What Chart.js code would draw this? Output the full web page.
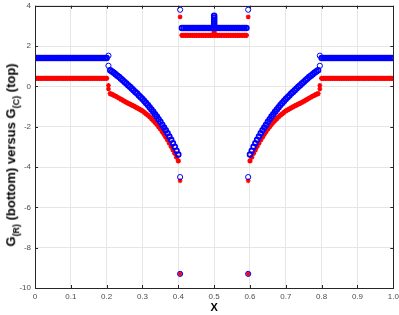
<!DOCTYPE html>
<html lang="en">
<head>
  <meta charset="UTF-8">
  <title>G(R) versus G(C)</title>
  <script src="https://cdn.jsdelivr.net/npm/chart.js"></script>
  <style>
    body { margin: 0; background: #ffffff; }
    #wrap { position: relative; width: 399px; height: 315px; }
    #ylabel {
      position: absolute;
      left: 12px; top: 155px;
      transform: translate(-50%, -50%) rotate(-90deg);
      white-space: nowrap;
      font: bold 13px "Liberation Sans", Arial, sans-serif;
      color: #000;
    }
    #ylabel sub { font-size: 9px; }
  </style>
</head>
<body>
  <div id="wrap">
    <canvas id="graph"></canvas>
    <div id="ylabel">G<sub>(R)</sub> (bottom) versus G<sub>(C)</sub> (top)</div>
  </div>

  <script>
    // x positions of each piece
    const xFlatL  = [0,0.005,0.01,0.015,0.02,0.025,0.03,0.035,0.04,0.045,0.05,0.055,0.06,0.065,0.07,0.075,0.08,0.085,0.09,0.095,
                     0.1,0.105,0.11,0.115,0.12,0.125,0.13,0.135,0.14,0.145,0.15,0.155,0.16,0.165,0.17,0.175,0.18,0.185,0.19,0.195,0.2];
    const xCurveL = [0.21,0.215,0.22,0.225,0.23,0.235,0.24,0.245,0.25,0.255,0.26,0.265,0.27,0.275,0.28,0.285,0.29,0.295,0.3,0.305,
                     0.31,0.315,0.32,0.325,0.33,0.335,0.34,0.345,0.35,0.355,0.36,0.365,0.37,0.375,0.38,0.385,0.39,0.395,0.4];
    const xMid    = [0.41,0.415,0.42,0.425,0.43,0.435,0.44,0.445,0.45,0.455,0.46,0.465,0.47,0.475,0.48,0.485,0.49,0.495,0.5,
                     0.505,0.51,0.515,0.52,0.525,0.53,0.535,0.54,0.545,0.55,0.555,0.56,0.565,0.57,0.575,0.58,0.585,0.59];
    const xCurveR = [0.6,0.605,0.61,0.615,0.62,0.625,0.63,0.635,0.64,0.645,0.65,0.655,0.66,0.665,0.67,0.675,0.68,0.685,0.69,0.695,
                     0.7,0.705,0.71,0.715,0.72,0.725,0.73,0.735,0.74,0.745,0.75,0.755,0.76,0.765,0.77,0.775,0.78,0.785,0.79];
    const xFlatR  = [0.8,0.805,0.81,0.815,0.82,0.825,0.83,0.835,0.84,0.845,0.85,0.855,0.86,0.865,0.87,0.875,0.88,0.885,0.89,0.895,
                     0.9,0.905,0.91,0.915,0.92,0.925,0.93,0.935,0.94,0.945,0.95,0.955,0.96,0.965,0.97,0.975,0.98,0.985,0.99,0.995,1];

    // G(C), top (blue circles)
    const blueFlatL  = [1.41,1.41,1.41,1.41,1.41,1.41,1.41,1.41,1.41,1.41,1.41,1.41,1.41,1.41,1.41,1.41,1.41,1.41,1.41,1.41,
                        1.41,1.41,1.41,1.41,1.41,1.41,1.41,1.41,1.41,1.41,1.41,1.41,1.41,1.41,1.41,1.41,1.41,1.41,1.41,1.41,1.41];
    const blueCurveL = [0.80,0.74,0.67,0.60,0.53,0.46,0.38,0.30,0.22,0.14,0.06,-0.02,-0.11,-0.19,-0.28,-0.36,-0.45,-0.54,-0.63,-0.73,
                        -0.83,-0.93,-1.04,-1.15,-1.26,-1.38,-1.50,-1.63,-1.76,-1.90,-2.04,-2.18,-2.33,-2.49,-2.65,-2.82,-3.00,-3.19,-3.38];
    const blueMid    = [2.90,2.90,2.90,2.90,2.90,2.90,2.90,2.90,2.90,2.90,2.90,2.90,2.90,2.90,2.90,2.90,2.90,2.90,2.90,
                        2.90,2.90,2.90,2.90,2.90,2.90,2.90,2.90,2.90,2.90,2.90,2.90,2.90,2.90,2.90,2.90,2.90,2.90];
    const blueCurveR = [-3.38,-3.19,-3.00,-2.82,-2.65,-2.49,-2.33,-2.18,-2.04,-1.90,-1.76,-1.63,-1.50,-1.38,-1.26,-1.15,-1.04,-0.93,-0.83,-0.73,
                        -0.63,-0.54,-0.45,-0.36,-0.28,-0.19,-0.11,-0.02,0.06,0.14,0.22,0.30,0.38,0.46,0.53,0.60,0.67,0.74,0.80];
    const blueFlatR  = [1.41,1.41,1.41,1.41,1.41,1.41,1.41,1.41,1.41,1.41,1.41,1.41,1.41,1.41,1.41,1.41,1.41,1.41,1.41,1.41,
                        1.41,1.41,1.41,1.41,1.41,1.41,1.41,1.41,1.41,1.41,1.41,1.41,1.41,1.41,1.41,1.41,1.41,1.41,1.41,1.41,1.41];

    // G(R), bottom (red stars)
    const redFlatL  = [0.40,0.40,0.40,0.40,0.40,0.40,0.40,0.40,0.40,0.40,0.40,0.40,0.40,0.40,0.40,0.40,0.40,0.40,0.40,0.40,
                       0.40,0.40,0.40,0.40,0.40,0.40,0.40,0.40,0.40,0.40,0.40,0.40,0.40,0.40,0.40,0.40,0.40,0.40,0.40,0.40,0.40];
    const redCurveL = [-0.36,-0.40,-0.45,-0.49,-0.54,-0.59,-0.64,-0.69,-0.75,-0.79,-0.84,-0.88,-0.93,-0.97,-1.02,-1.07,-1.12,-1.17,-1.22,-1.29,
                       -1.36,-1.43,-1.51,-1.60,-1.69,-1.79,-1.89,-2.00,-2.11,-2.24,-2.38,-2.52,-2.66,-2.82,-2.98,-3.15,-3.32,-3.51,-3.70];
    const redMid    = [2.53,2.53,2.53,2.53,2.53,2.53,2.53,2.53,2.53,2.53,2.53,2.53,2.53,2.53,2.53,2.53,2.53,2.53,2.53,
                       2.53,2.53,2.53,2.53,2.53,2.53,2.53,2.53,2.53,2.53,2.53,2.53,2.53,2.53,2.53,2.53,2.53,2.53];
    const redCurveR = [-3.70,-3.51,-3.32,-3.15,-2.98,-2.82,-2.66,-2.52,-2.38,-2.24,-2.11,-2.00,-1.89,-1.79,-1.69,-1.60,-1.51,-1.43,-1.36,-1.29,
                       -1.22,-1.17,-1.12,-1.07,-1.02,-0.97,-0.93,-0.88,-0.84,-0.79,-0.75,-0.69,-0.64,-0.59,-0.54,-0.49,-0.45,-0.40,-0.36];
    const redFlatR  = [0.40,0.40,0.40,0.40,0.40,0.40,0.40,0.40,0.40,0.40,0.40,0.40,0.40,0.40,0.40,0.40,0.40,0.40,0.40,0.40,
                       0.40,0.40,0.40,0.40,0.40,0.40,0.40,0.40,0.40,0.40,0.40,0.40,0.40,0.40,0.40,0.40,0.40,0.40,0.40,0.40,0.40];

    // isolated points at the jumps
    const xExtraBlue = [0.205,0.205,0.405,0.405,0.405,0.595,0.595,0.595,0.795,0.795];
    const yExtraBlue = [1.52,1.02,3.80,-4.50,-9.30,3.80,-4.50,-9.30,1.02,1.52];
    const xExtraRed  = [0.205,0.205,0.405,0.405,0.405,0.595,0.595,0.595,0.795,0.795];
    const yExtraRed  = [0.05,-0.12,3.45,-4.68,-9.30,3.45,-4.68,-9.30,0.05,-0.12];
    // spike at x = 0.5
    const xSpikeBlue = [0.50,0.50,0.50,0.50,0.50,0.50];
    const ySpikeBlue = [3.00,3.10,3.20,3.30,3.40,3.50];
    const xSpikeRed  = [0.50,0.50];
    const ySpikeRed  = [2.62,2.70];

    const xTicks = [0,0.1,0.2,0.3,0.4,0.5,0.6,0.7,0.8,0.9,1];
    const yTicks = [-10,-8,-6,-4,-2,0,2,4];

    function pts(xs, ys) {
      return xs.map((x, i) => ({ x: x, y: ys[i] }));
    }

    const blueData = [].concat(
      pts(xFlatL, blueFlatL), pts(xCurveL, blueCurveL), pts(xMid, blueMid),
      pts(xCurveR, blueCurveR), pts(xFlatR, blueFlatR), pts(xSpikeBlue, ySpikeBlue));
    const redData = [].concat(
      pts(xFlatL, redFlatL), pts(xCurveL, redCurveL), pts(xMid, redMid),
      pts(xCurveR, redCurveR), pts(xFlatR, redFlatR), pts(xSpikeRed, ySpikeRed));

    // box round the plot with inward tick marks, matlab style
    const boxPlugin = {
      id: 'box',
      afterDraw(chart) {
        const a = chart.chartArea, ctx = chart.ctx;
        const sx = chart.scales.x, sy = chart.scales.y;
        ctx.save();
        ctx.strokeStyle = '#262626';
        ctx.lineWidth = 1;
        ctx.beginPath();
        xTicks.forEach(v => {
          const px = Math.round(sx.getPixelForValue(v)) + 0.5;
          ctx.moveTo(px, a.bottom); ctx.lineTo(px, a.bottom - 3);
          ctx.moveTo(px, a.top); ctx.lineTo(px, a.top + 3);
        });
        yTicks.forEach(v => {
          const py = Math.round(sy.getPixelForValue(v)) + 0.5;
          ctx.moveTo(a.left, py); ctx.lineTo(a.left + 3, py);
          ctx.moveTo(a.right, py); ctx.lineTo(a.right - 3, py);
        });
        ctx.stroke();
        ctx.strokeRect(Math.round(a.left) + 0.5, Math.round(a.top) + 0.5,
          Math.round(a.right - a.left), Math.round(a.bottom - a.top));
        ctx.restore();
      }
    };

    new Chart(document.getElementById('graph'), {
      type: 'scatter',
      data: {
        datasets: [
          { label: 'G(C) single', data: pts(xExtraBlue, yExtraBlue), order: 0, pointStyle: 'circle', pointRadius: 2.6,
            borderColor: '#0000ff', backgroundColor: 'rgba(0,0,0,0)', borderWidth: 1 },
          { label: 'G(C)', data: blueData, order: 1, pointStyle: 'circle', pointRadius: 2.4,
            borderColor: '#0000ff', backgroundColor: 'rgba(0,0,0,0)', borderWidth: 1.7 },
          { label: 'G(R) single', data: pts(xExtraRed, yExtraRed), order: 2, pointStyle: 'star', pointRadius: 2.4,
            borderColor: '#ff0000', backgroundColor: '#ff0000', borderWidth: 1.2 },
          { label: 'G(R)', data: redData, order: 3, pointStyle: 'star', pointRadius: 2.6,
            borderColor: '#ff0000', backgroundColor: '#ff0000', borderWidth: 1.5 }
        ]
      },
      options: {
        responsive: true,
        maintainAspectRatio: false,
        animation: false,
        layout: { padding: { top: 4, right: 3, left: 0, bottom: 0 } },
        plugins: { legend: { display: false }, tooltip: { enabled: false } },
        scales: {
          x: {
            type: 'linear', min: 0, max: 1,
            afterBuildTicks: s => { s.ticks = xTicks.map(v => ({ value: v })); },
            afterFit: s => { s.height = 27; s.paddingLeft = 0; s.paddingRight = 0; },
            grid: { color: '#e6e6e6', drawTicks: false },
            border: { display: false },
            ticks: { padding: 4, color: '#4d4d4d', font: { family: 'Liberation Sans', size: 8 },
              maxRotation: 0 },
            title: { display: true, text: 'X', color: '#000', padding: { top: 0, bottom: 0 },
              font: { family: 'Liberation Sans', size: 11, weight: 'bold' } }
          },
          y: {
            type: 'linear', min: -10, max: 4,
            afterBuildTicks: s => { s.ticks = yTicks.map(v => ({ value: v })); },
            afterFit: s => { s.width = 35; s.paddingTop = 0; s.paddingBottom = 0; },
            grid: { color: '#e6e6e6', drawTicks: false },
            border: { display: false },
            ticks: { padding: 4, color: '#4d4d4d', font: { family: 'Liberation Sans', size: 8 } }
          }
        }
      },
      plugins: [boxPlugin]
    });
  </script>
</body>
</html>
